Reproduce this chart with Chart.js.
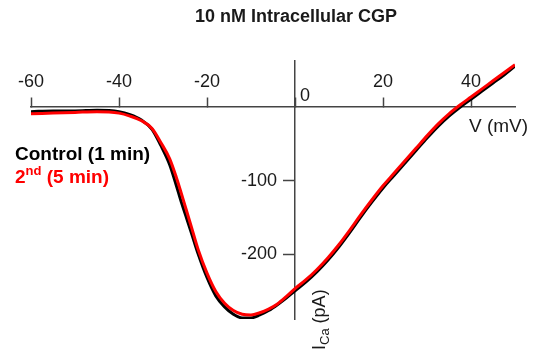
<!DOCTYPE html>
<html>
<head>
<meta charset="utf-8">
<script src="https://cdn.jsdelivr.net/npm/chart.js@4.4.1/dist/chart.umd.min.js"></script>
<style>
  html, body { margin: 0; padding: 0; background: #fff; }
  #wrap { width: 533px; height: 352px; }
</style>
</head>
<body>
<div id="wrap"><canvas id="iv"></canvas></div>
<script>
// membrane potential (mV) for both traces
const voltage = [-60, -55, -50, -45, -40, -37.5, -35, -32.5, -30.5, -28.5, -27, -25.8, -24.7, -23.5, -22, -20, -18, -16, -14, -12, -10, -8, -6, -4, -2, 0, 2.5, 5, 7.5, 10, 12.5, 15, 17.5, 20, 22.5, 25, 27.5, 30, 32.5, 35, 37.5, 40, 42.5, 45, 47.5, 50];

// I_Ca (pA)
const controlCurrent = [-6, -5, -5, -4, -6, -10, -17, -30, -52, -78, -106, -130, -150, -172, -200, -232, -257, -272, -282, -287, -287, -283, -277, -269, -260, -250, -238, -224, -208, -190, -170, -149, -129, -110, -93, -76, -59, -42, -26, -12, 0, 11, 22, 33, 44, 56];
const secondCurrent = [-9, -8, -7, -6, -8, -12, -18, -29, -48, -70, -95, -118, -140, -164, -194, -226, -251, -267, -277, -282, -283, -280, -275, -268, -258, -247, -235, -221, -205, -187, -167, -146, -126, -107, -90, -73, -56, -39, -23, -9, 3, 14, 25, 36, 47, 58];

const xTicks = [-60, -40, -20, 0, 20, 40];
const yTicks = [-100, -200];

const axisColor = '#444';
const textColor = '#1a1a1a';
const fontFamily = '"Liberation Sans", Arial, sans-serif';
const yMin = -288.5, yMax = 63;

const toPoints = (xs, ys) => xs.map((v, i) => ({ x: v, y: ys[i] }));

// title, axis names and the little legend
const annotations = {
  id: 'annotations',
  afterDraw(chart) {
    const ctx = chart.ctx;
    const xs = chart.scales.x, ys = chart.scales.y;
    const x0 = xs.getPixelForValue(0), y0 = ys.getPixelForValue(0);
    ctx.save();
    ctx.textBaseline = 'middle';

    ctx.fillStyle = textColor;
    ctx.font = 'bold 18px ' + fontFamily;
    ctx.textAlign = 'center';
    ctx.fillText('10 nM Intracellular CGP', 296, 17);

    ctx.font = '18px ' + fontFamily;
    ctx.textAlign = 'left';
    ctx.fillText('0', x0 + 5, y0 - 11);
    ctx.font = '19px ' + fontFamily;
    ctx.fillText('V (mV)', 469, y0 + 20);

    // rotated y title with subscript
    ctx.save();
    ctx.translate(x0 + 25, 350);
    ctx.rotate(-Math.PI / 2);
    ctx.textAlign = 'left';
    ctx.font = '18px ' + fontFamily;
    ctx.fillText('I', 0, 0);
    let w = ctx.measureText('I').width;
    ctx.font = '13px ' + fontFamily;
    ctx.fillText('Ca', w, 5);
    w += ctx.measureText('Ca').width;
    ctx.font = '18px ' + fontFamily;
    ctx.fillText(' (pA)', w, 0);
    ctx.restore();

    // legend
    ctx.font = 'bold 19px ' + fontFamily;
    ctx.fillStyle = '#000';
    ctx.fillText('Control (1 min)', 15, 155);
    ctx.fillStyle = '#ff0000';
    ctx.fillText('2', 15, 178);
    let lx = 15 + ctx.measureText('2').width;
    ctx.font = 'bold 13px ' + fontFamily;
    ctx.fillText('nd', lx, 171);
    lx += ctx.measureText('nd').width;
    ctx.font = 'bold 19px ' + fontFamily;
    ctx.fillText(' (5 min)', lx, 178);
    ctx.restore();
  }
};

new Chart(document.getElementById('iv'), {
  type: 'line',
  data: {
    datasets: [{
      label: '2nd (5 min)',
      data: toPoints(voltage, secondCurrent),
      borderColor: '#ff0000',
      borderWidth: 3,
      pointRadius: 0,
      cubicInterpolationMode: 'monotone',
      order: 0
    }, {
      label: 'Control (1 min)',
      data: toPoints(voltage, controlCurrent),
      borderColor: '#000000',
      borderWidth: 3,
      pointRadius: 0,
      cubicInterpolationMode: 'monotone',
      order: 1
    }]
  },
  options: {
    responsive: true,
    maintainAspectRatio: false,
    animation: false,
    layout: { padding: { left: 31, right: 18, top: 61, bottom: 33 } },
    plugins: {
      legend: { display: false },
      title: { display: false },
      tooltip: { enabled: false }
    },
    scales: {
      x: {
        type: 'linear',
        min: -60,
        max: 50,
        position: { y: 0 },
        afterBuildTicks: s => { s.ticks = xTicks.map(v => ({ value: v })); },
        border: { color: axisColor, width: 1.5 },
        grid: { drawOnChartArea: false, drawTicks: true, tickLength: -10, tickColor: axisColor, tickWidth: 1.5 },
        ticks: {
          color: textColor,
          font: { family: fontFamily, size: 18 },
          padding: -26,
          maxRotation: 0,
          autoSkip: false,
          callback: v => (v === 0 ? '' : v)
        }
      },
      y: {
        type: 'linear',
        min: yMin,
        max: yMax,
        position: { x: 0 },
        afterBuildTicks: s => { s.ticks = yTicks.map(v => ({ value: v })); },
        border: { color: axisColor, width: 1.5 },
        grid: { drawOnChartArea: false, drawTicks: true, tickLength: 11, tickColor: axisColor, tickWidth: 1.5 },
        ticks: { autoSkip: false, callback: () => '' }
      },
      // same range, only carries the y tick labels just left of the tick marks
      yLabels: {
        axis: 'y',
        type: 'linear',
        min: yMin,
        max: yMax,
        position: { x: -4.1 },
        afterBuildTicks: s => { s.ticks = yTicks.map(v => ({ value: v })); },
        border: { display: false },
        grid: { display: false },
        ticks: {
          color: textColor,
          font: { family: fontFamily, size: 18 },
          autoSkip: false
        }
      }
    }
  },
  plugins: [annotations]
});
</script>
</body>
</html>
